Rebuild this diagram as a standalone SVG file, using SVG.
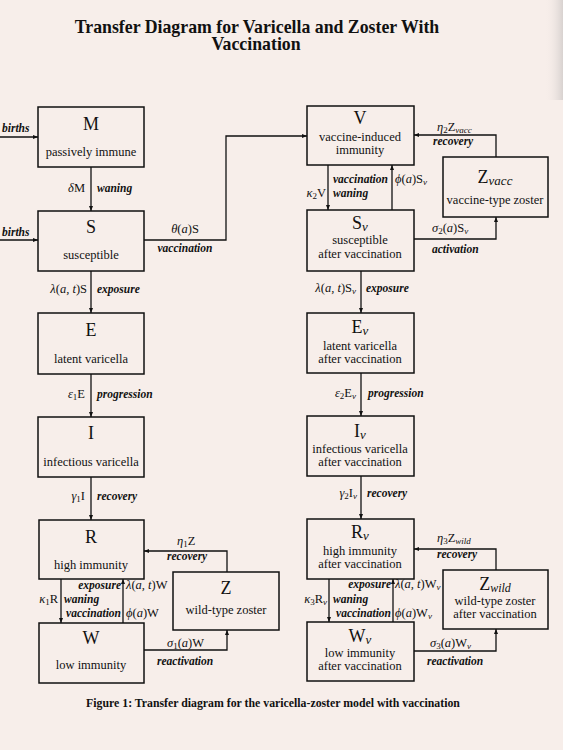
<svg xmlns="http://www.w3.org/2000/svg" width="563" height="750" viewBox="0 0 563 750">
<defs>
<marker id="ah" viewBox="0 0 10 10" refX="10" refY="5" markerWidth="5" markerHeight="5" orient="auto" markerUnits="userSpaceOnUse">
<path d="M0,1 L10,5 L0,9 Z" fill="#111"/>
</marker>
<linearGradient id="edge" x1="0" y1="0" x2="1" y2="0">
<stop offset="0" stop-color="#f6ede9" stop-opacity="0"/>
<stop offset="1" stop-color="#d8d2d0"/>
</linearGradient>
</defs>
<style>
.bg{fill:#f7eeea}
.box{fill:none;stroke:#111;stroke-width:1.5}
.cn{fill:none;stroke:#111;stroke-width:1.3;marker-end:url(#ah)}
text{font-family:"Liberation Serif","DejaVu Serif",serif;fill:#111}
.t{font-size:18px;text-anchor:middle}
.d{font-size:12.5px;text-anchor:middle}
.l{font-size:11.5px;font-style:italic;font-weight:bold}
.m{font-size:12.5px}
.s{font-size:9px}
.e{text-anchor:end}
.i{font-style:italic}
.title{font-size:17.8px;font-weight:bold;text-anchor:middle}
.cap{font-size:11.8px;font-weight:bold;text-anchor:middle}
</style>
<rect class="bg" x="0" y="0" width="563" height="750"/>
<rect x="545" y="0" width="18" height="100" fill="url(#edge)"/>
<g id="title">
<text class="title" x="257" y="33">Transfer Diagram for Varicella and Zoster With</text>
<text class="title" x="256" y="50">Vaccination</text>
</g>

<g id="connectors">
<path class="cn" d="M0,137 H38"/>
<path class="cn" d="M0,240 H38"/>
<path class="cn" d="M91,167 V211"/>
<path class="cn" d="M144,240 H226 V136 H307"/>
<path class="cn" d="M328,165 V210"/>
<path class="cn" d="M392,210 V165"/>
<path class="cn" d="M496,157 V135 H414"/>
<path class="cn" d="M414,239 H496 V217"/>
<path class="cn" d="M91,271 V313"/>
<path class="cn" d="M91,374 V417"/>
<path class="cn" d="M91,477 V520"/>
<path class="cn" d="M361,271 V313"/>
<path class="cn" d="M361,373 V416"/>
<path class="cn" d="M361,476 V519"/>
<path class="cn" d="M227,572 V551 H144"/>
<path class="cn" d="M61,579 V623"/>
<path class="cn" d="M123,623 V579"/>
<path class="cn" d="M144,650 H227 V630"/>
<path class="cn" d="M329,579 V622"/>
<path class="cn" d="M393,622 V579"/>
<path class="cn" d="M496,570 V549 H414"/>
<path class="cn" d="M414,651 H496 V629"/>
</g>

<g id="labels">
<text class="l" x="2" y="132">births</text>
<text class="l" x="2" y="236">births</text>
<text class="m e" x="85" y="192"><tspan class="i">δ</tspan>M</text>
<text class="l" x="97" y="192">waning</text>
<text class="m" x="185" y="233" text-anchor="middle"><tspan class="i">θ</tspan>(<tspan class="i">a</tspan>)S</text>
<text class="l" x="185" y="252" text-anchor="middle">vaccination</text>
<text class="l" x="333" y="183">vaccination</text>
<text class="m" x="395" y="183"><tspan class="i">ϕ</tspan>(<tspan class="i">a</tspan>)S<tspan class="i s" dy="2">v</tspan></text>
<text class="m e" x="326" y="197"><tspan class="i">κ</tspan><tspan class="s" dy="2">2</tspan><tspan dy="-2">V</tspan></text>
<text class="l" x="333" y="197">waning</text>
<text class="m" x="437" y="131"><tspan class="i">η</tspan><tspan class="s" dy="2">2</tspan><tspan dy="-2">Z</tspan><tspan class="i s" dy="2">vacc</tspan></text>
<text class="l" x="433" y="145">recovery</text>
<text class="m" x="432" y="232"><tspan class="i">σ</tspan><tspan class="s" dy="2">2</tspan><tspan dy="-2">(</tspan><tspan class="i">a</tspan>)S<tspan class="i s" dy="2">v</tspan></text>
<text class="l" x="432" y="253">activation</text>
<text class="m e" x="87" y="293"><tspan class="i">λ</tspan>(<tspan class="i">a, t</tspan>)S</text>
<text class="l" x="97" y="293">exposure</text>
<text class="m e" x="356" y="292"><tspan class="i">λ</tspan>(<tspan class="i">a, t</tspan>)S<tspan class="i s" dy="2">v</tspan></text>
<text class="l" x="366" y="292">exposure</text>
<text class="m e" x="85" y="398"><tspan class="i">ε</tspan><tspan class="s" dy="2">1</tspan><tspan dy="-2">E</tspan></text>
<text class="l" x="97" y="398">progression</text>
<text class="m e" x="356" y="397"><tspan class="i">ε</tspan><tspan class="s" dy="2">2</tspan><tspan dy="-2">E</tspan><tspan class="i s" dy="2">v</tspan></text>
<text class="l" x="368" y="397">progression</text>
<text class="m e" x="85" y="500"><tspan class="i">γ</tspan><tspan class="s" dy="2">1</tspan><tspan dy="-2">I</tspan></text>
<text class="l" x="97" y="500">recovery</text>
<text class="m e" x="357" y="497"><tspan class="i">γ</tspan><tspan class="s" dy="2">2</tspan><tspan dy="-2">I</tspan><tspan class="i s" dy="2">v</tspan></text>
<text class="l" x="367" y="497">recovery</text>
<text class="m" x="177" y="545"><tspan class="i">η</tspan><tspan class="s" dy="2">1</tspan><tspan dy="-2">Z</tspan></text>
<text class="l" x="167" y="560">recovery</text>
<text class="l e" x="121" y="589">exposure</text>
<text class="m" x="126" y="589"><tspan class="i">λ</tspan>(<tspan class="i">a, t</tspan>)W</text>
<text class="m e" x="58" y="603"><tspan class="i">κ</tspan><tspan class="s" dy="2">1</tspan><tspan dy="-2">R</tspan></text>
<text class="l" x="64" y="603">waning</text>
<text class="l e" x="121" y="617">vaccination</text>
<text class="m" x="126" y="617"><tspan class="i">ϕ</tspan>(<tspan class="i">a</tspan>)W</text>
<text class="m" x="167" y="647"><tspan class="i">σ</tspan><tspan class="s" dy="2">1</tspan><tspan dy="-2">(</tspan><tspan class="i">a</tspan>)W</text>
<text class="l" x="157" y="665">reactivation</text>
<text class="m" x="437" y="542"><tspan class="i">η</tspan><tspan class="s" dy="2">3</tspan><tspan dy="-2">Z</tspan><tspan class="i s" dy="2">wild</tspan></text>
<text class="l" x="437" y="558">recovery</text>
<text class="l e" x="391" y="588">exposure</text>
<text class="m" x="395" y="588"><tspan class="i">λ</tspan>(<tspan class="i">a, t</tspan>)W<tspan class="i s" dy="2">v</tspan></text>
<text class="m e" x="327" y="603"><tspan class="i">κ</tspan><tspan class="s" dy="2">3</tspan><tspan dy="-2">R</tspan><tspan class="i s" dy="2">v</tspan></text>
<text class="l" x="333" y="603">waning</text>
<text class="l e" x="391" y="617">vaccination</text>
<text class="m" x="395" y="617"><tspan class="i">ϕ</tspan>(<tspan class="i">a</tspan>)W<tspan class="i s" dy="2">v</tspan></text>
<text class="m" x="430" y="647"><tspan class="i">σ</tspan><tspan class="s" dy="2">3</tspan><tspan dy="-2">(</tspan><tspan class="i">a</tspan>)W<tspan class="i s" dy="2">v</tspan></text>
<text class="l" x="427" y="665">reactivation</text>
</g>

<g id="M"><rect class="box" x="38" y="107" width="106" height="60"/><text class="t" x="91" y="130">M</text><text class="d" x="91" y="156">passively immune</text></g>
<g id="S"><rect class="box" x="38" y="211" width="106" height="60"/><text class="t" x="91" y="233">S</text><text class="d" x="91" y="259">susceptible</text></g>
<g id="E"><rect class="box" x="38" y="313" width="106" height="61"/><text class="t" x="91" y="336">E</text><text class="d" x="91" y="363">latent varicella</text></g>
<g id="I"><rect class="box" x="38" y="417" width="106" height="60"/><text class="t" x="91" y="439">I</text><text class="d" x="91" y="466">infectious varicella</text></g>
<g id="R"><rect class="box" x="39" y="520" width="105" height="59"/><text class="t" x="91" y="543">R</text><text class="d" x="91" y="569">high immunity</text></g>
<g id="W"><rect class="box" x="39" y="623" width="105" height="60"/><text class="t" x="91" y="644">W</text><text class="d" x="91" y="669">low immunity</text></g>
<g id="Z"><rect class="box" x="173" y="572" width="106" height="58"/><text class="t" x="226" y="594">Z</text><text class="d" x="226" y="614">wild-type zoster</text></g>
<g id="V"><rect class="box" x="307" y="106" width="107" height="59"/><text class="t" x="360" y="124">V</text><text class="d" x="360" y="141">vaccine-induced</text><text class="d" x="360" y="154">immunity</text></g>
<g id="Zvacc"><rect class="box" x="443" y="157" width="105" height="60"/><text class="t" x="495" y="183">Z<tspan class="i" font-size="13" dy="2">vacc</tspan></text><text class="d" x="495" y="204">vaccine-type zoster</text></g>
<g id="Sv"><rect class="box" x="307" y="210" width="107" height="61"/><text class="t" x="360" y="229">S<tspan class="i" font-size="13" dy="2">v</tspan></text><text class="d" x="360" y="244">susceptible</text><text class="d" x="360" y="258">after vaccination</text></g>
<g id="Ev"><rect class="box" x="307" y="313" width="107" height="60"/><text class="t" x="360" y="333">E<tspan class="i" font-size="13" dy="2">v</tspan></text><text class="d" x="360" y="350">latent varicella</text><text class="d" x="360" y="363">after vaccination</text></g>
<g id="Iv"><rect class="box" x="307" y="416" width="107" height="60"/><text class="t" x="360" y="437">I<tspan class="i" font-size="13" dy="2">v</tspan></text><text class="d" x="360" y="453">infectious varicella</text><text class="d" x="360" y="466">after vaccination</text></g>
<g id="Rv"><rect class="box" x="307" y="519" width="107" height="60"/><text class="t" x="360" y="538">R<tspan class="i" font-size="13" dy="2">v</tspan></text><text class="d" x="360" y="555">high immunity</text><text class="d" x="360" y="568">after vaccination</text></g>
<g id="Wv"><rect class="box" x="307" y="622" width="107" height="59"/><text class="t" x="360" y="642">W<tspan class="i" font-size="13" dy="2">v</tspan></text><text class="d" x="360" y="657">low immunity</text><text class="d" x="360" y="670">after vaccination</text></g>
<g id="Zwild"><rect class="box" x="443" y="570" width="105" height="59"/><text class="t" x="495" y="590">Z<tspan class="i" font-size="12" dy="1.5">wild</tspan></text><text class="d" x="495" y="605">wild-type zoster</text><text class="d" x="495" y="618">after vaccination</text></g>

<g id="caption">
<text class="cap" x="273" y="707">Figure 1: Transfer diagram for the varicella-zoster model with vaccination</text>
</g>
</svg>
